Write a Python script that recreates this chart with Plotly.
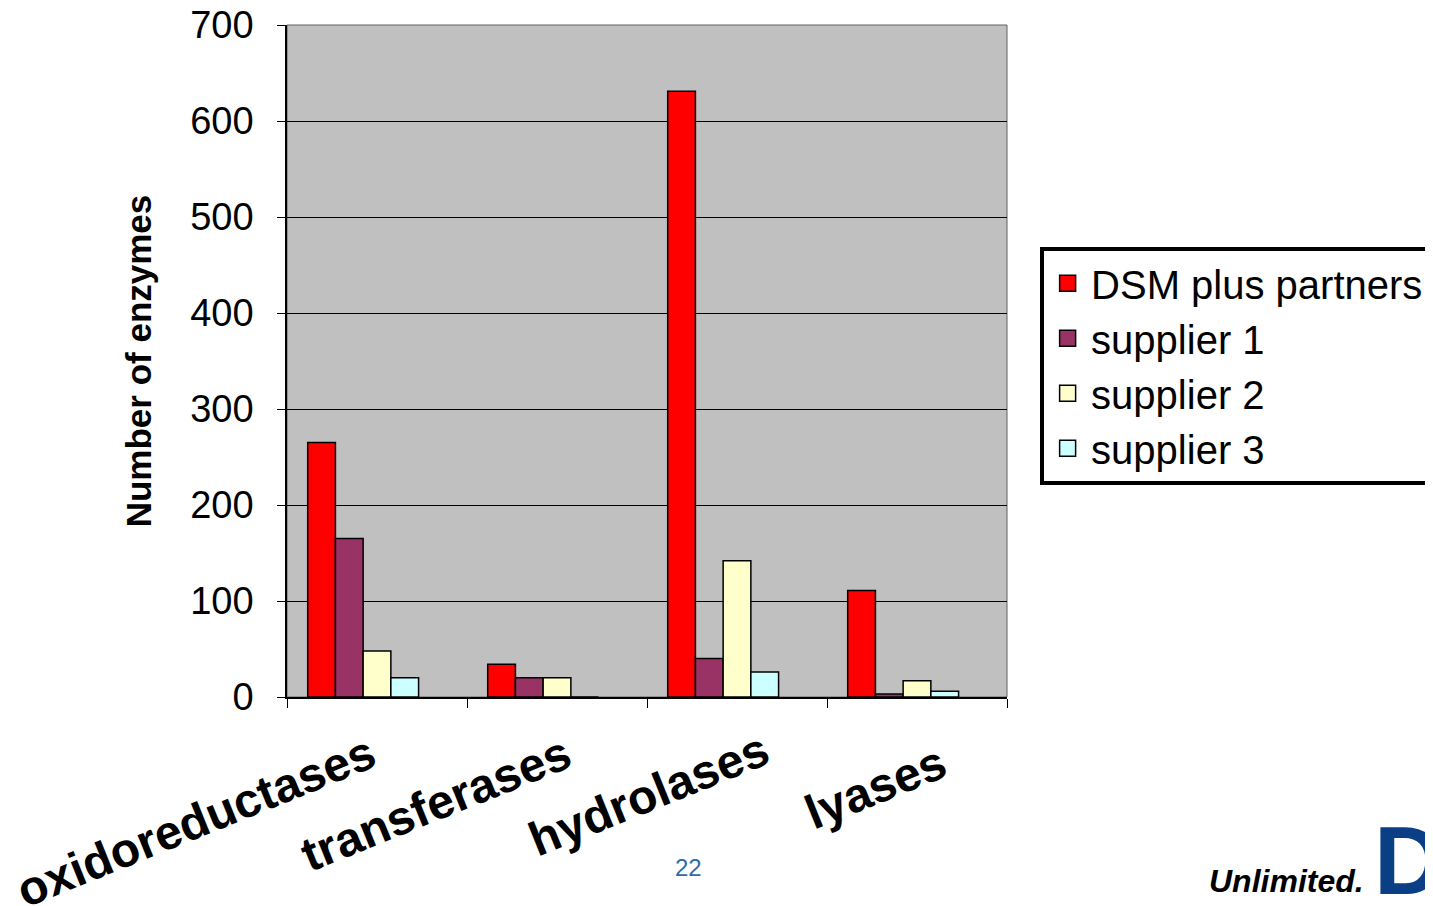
import plotly.graph_objects as go

categories = ['oxidoreductases', 'transferases', 'hydrolases', 'lyases']
series_names = ['DSM plus partners', 'supplier 1', 'supplier 2', 'supplier 3']
dsm_plus_partners = [265, 34, 631, 111]
supplier_1 = [165, 20, 40, 3]
supplier_2 = [48, 20, 142, 17]
supplier_3 = [20, 0, 26, 6]
empty_series = [0, 0, 0, 0]   # пустая пятая серия в исходнике - сдвигает группы влево
y_ticks = [0, 100, 200, 300, 400, 500, 600, 700]

colors = ['#FF0000', '#993366', '#FFFFCC', '#CCFFFF']
values = [dsm_plus_partners, supplier_1, supplier_2, supplier_3]
# сдвиги подписей категорий (px) - в оригинале они разъехались неравномерно
label_shift = [(-182, -124), (-121, -106), (-89, -97), (-42, -90)]

fig = go.Figure()
for name, vals, col in zip(series_names, values, colors):
    fig.add_trace(go.Bar(x=categories, y=vals, name=name, showlegend=False,
                         marker=dict(color=col, line=dict(color='black', width=1.5))))
fig.add_trace(go.Bar(x=categories, y=empty_series, name='', showlegend=False,
                     marker=dict(color='rgba(0,0,0,0)', line=dict(width=0))))
# Легенда через пустые scatter, чтобы квадратики были крупнее
for name, col in zip(series_names, colors):
    fig.add_trace(go.Scatter(x=[None], y=[None], mode='markers', name=name, legendgroup=name,
                             marker=dict(symbol='square', size=16, color=col,
                                         line=dict(color='black', width=1.5))))

fig.update_layout(
    width=1425, height=898,      # у body отступ 8px
    margin=dict(l=279, r=426, t=17, b=209, autoexpand=False),
    paper_bgcolor='white', plot_bgcolor='#C0C0C0',
    barmode='group', bargap=0.23, bargroupgap=0,
    font=dict(family='Liberation Sans, Arial, sans-serif', color='black'),
    legend=dict(x=1.046, y=0.67, xanchor='left', yanchor='top',
                bgcolor='white', bordercolor='black', borderwidth=4,
                font=dict(size=40), itemclick=False, tracegroupgap=0,
                itemwidth=37, traceorder='grouped'),
    showlegend=True,
)
fig.update_xaxes(type='category', range=[-0.5, len(categories) - 0.5],
                 tickson='boundaries', ticks='outside', ticklen=9,
                 tickcolor='black', showline=True, linecolor='black', linewidth=1.5,
                 showticklabels=False, showgrid=False)
fig.update_yaxes(range=[0, 700], tickvals=y_ticks, ticks='outside', ticklen=8,
                 tickcolor='black', showline=True, linecolor='black', linewidth=1.5,
                 showgrid=True, gridcolor='black', gridwidth=1, zeroline=False,
                 tickfont=dict(size=38), ticklabelstandoff=16, ticklabeloverflow='allow',
                 title=dict(text='Number of enzymes', standoff=28,
                            font=dict(size=35, weight='bold')))

# рамка области построения (верх и право серые)
fig.add_shape(type='rect', xref='paper', yref='paper', x0=0, x1=1, y0=0, y1=1,
              line=dict(color='#606060', width=1), layer='below')

# подписи категорий
for cat, (dx, dy) in zip(categories, label_shift):
    fig.add_annotation(text=cat, xref='x', yref='paper', x=cat, y=0,
                       xshift=dx, yshift=dy, textangle=-22,
                       xanchor='center', yanchor='middle', showarrow=False,
                       font=dict(size=48, weight='bold'))

fig.add_annotation(text='22', xref='paper', yref='paper', x=0.557, y=-0.254,
                   xanchor='center', yanchor='middle',
                   showarrow=False, font=dict(size=24, color='#2E6AA8'))
fig.add_annotation(text='<i><b>Unlimited.</b></i>', xref='paper', yref='paper', x=1.3875, y=-0.2738,
                   xanchor='center', yanchor='middle',
                   showarrow=False, font=dict(size=32, color='black'))
fig.add_annotation(text='<b>D</b>', xref='paper', yref='paper', x=1.507, y=-0.2426,
                   xanchor='left', yanchor='middle', showarrow=False,
                   font=dict(size=96, color='#0A3E85'))

fig.write_html("out.html")
